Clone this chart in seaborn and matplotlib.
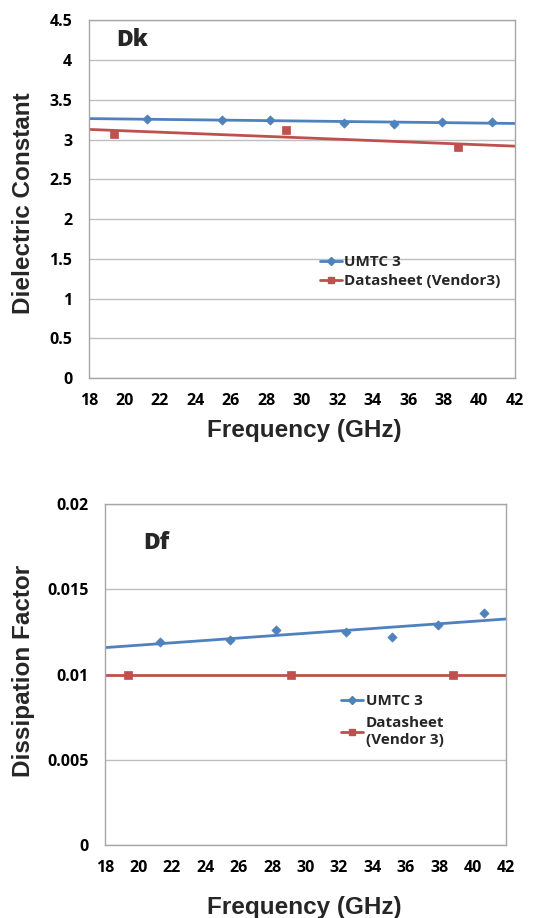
import numpy as np
import pandas as pd
import matplotlib
matplotlib.use("Agg")
import matplotlib.pyplot as plt
from matplotlib.lines import Line2D
import seaborn as sns

# ---- data ----
umtc_freq = [21.3, 25.5, 28.2, 32.4, 35.2, 37.9, 40.7]
umtc_dk = [3.26, 3.25, 3.24, 3.21, 3.20, 3.22, 3.22]
umtc_df = [0.0119, 0.0120, 0.0126, 0.0125, 0.0122, 0.0129, 0.0136]

vendor_freq = [19.4, 29.1, 38.8]
vendor_dk = [3.07, 3.12, 2.90]
vendor_df = [0.010, 0.010, 0.010]

x_ticks = list(range(18, 43, 2))
dk_ticks = [0, 0.5, 1, 1.5, 2, 2.5, 3, 3.5, 4, 4.5]
dk_tick_labels = ["0", "0.5", "1", "1.5", "2", "2.5", "3", "3.5", "4", "4.5"]
df_ticks = [0, 0.005, 0.01, 0.015, 0.02]
df_tick_labels = ["0", "0.005", "0.01", "0.015", "0.02"]

umtc_label_dk = "UMTC 3"
vendor_label_dk = "Datasheet (Vendor3)"
umtc_label_df = "UMTC 3"
vendor_label_df = "Datasheet\n(Vendor 3)"

BLUE = "#4F81BD"
RED = "#C0504D"
GRID = "#BFBFBF"

sns.set_theme(style="white")
BODY = ["Open Sans", "DejaVu Sans"]
plt.rcParams["font.family"] = BODY

fig = plt.figure(figsize=(5.39, 9.18), dpi=100)
ax1 = fig.add_axes([0.165, 0.588, 0.790, 0.390])
ax2 = fig.add_axes([0.195, 0.0795, 0.744, 0.3715])

tick_font = dict(family=BODY, weight="bold", size=11.5)
title_font = dict(family=["Liberation Sans", "DejaVu Sans"], weight="bold", size=17.5)


def style_axes(ax, yticks, ylabels, ylim):
    ax.set_xlim(18, 42)
    ax.set_ylim(*ylim)
    ax.set_xticks(x_ticks)
    ax.set_xticklabels([str(t) for t in x_ticks], **tick_font)
    ax.set_yticks(yticks)
    ax.set_yticklabels(ylabels, **tick_font)
    ax.tick_params(axis="both", length=0, colors="black")
    ax.tick_params(axis="x", pad=11)
    ax.tick_params(axis="y", pad=12)
    ax.grid(axis="y", color=GRID, linewidth=1.0)
    ax.set_axisbelow(True)
    for sp in ax.spines.values():
        sp.set_visible(True)
        sp.set_color("#A6A6A6")
        sp.set_linewidth(1.0)


def draw_panel(ax, y_umtc, y_vendor):
    df_u = pd.DataFrame({"freq": umtc_freq, "val": y_umtc})
    df_v = pd.DataFrame({"freq": vendor_freq, "val": y_vendor})
    # linear trend lines spanning the full frequency axis
    sns.regplot(data=df_u, x="freq", y="val", ax=ax, scatter=False, ci=None,
                truncate=False, color=BLUE, line_kws=dict(linewidth=2.0, zorder=2))
    sns.regplot(data=df_v, x="freq", y="val", ax=ax, scatter=False, ci=None,
                truncate=False, color=RED, line_kws=dict(linewidth=2.0, zorder=2))
    sns.scatterplot(data=df_u, x="freq", y="val", ax=ax, marker="D", s=22,
                    color=BLUE, edgecolor=BLUE, linewidth=0.5, zorder=3)
    sns.scatterplot(data=df_v, x="freq", y="val", ax=ax, marker="s", s=34,
                    color=RED, edgecolor=RED, linewidth=0.5, zorder=3)


# ---- Dk panel ----
ax1.set_xlim(18, 42)
draw_panel(ax1, umtc_dk, vendor_dk)
style_axes(ax1, dk_ticks, dk_tick_labels, (0, 4.5))
ax1.set_xlabel("Frequency (GHz)", **title_font)
ax1.set_ylabel("Dielectric Constant", **title_font)
ax1.xaxis.set_label_coords(0.505, -0.145)
ax1.xaxis.label.set_va("center")
ax1.yaxis.set_label_coords(-0.153, 0.49)
ax1.yaxis.label.set_va("center")
ax1.text(0.063, 0.944, "Dk", transform=ax1.transAxes, ha="left", va="center",
         fontsize=16.5, fontweight="heavy", family=BODY)

# ---- Df panel ----
ax2.set_xlim(18, 42)
draw_panel(ax2, umtc_df, vendor_df)
style_axes(ax2, df_ticks, df_tick_labels, (0, 0.02))
ax2.set_xlabel("Frequency (GHz)", **title_font)
ax2.set_ylabel("Dissipation Factor", **title_font)
ax2.xaxis.set_label_coords(0.496, -0.182)
ax2.xaxis.label.set_va("center")
ax2.yaxis.set_label_coords(-0.204, 0.51)
ax2.yaxis.label.set_va("center")
ax2.text(0.095, 0.886, "Df", transform=ax2.transAxes, ha="left", va="center",
         fontsize=16.5, fontweight="heavy", family=BODY)


def legend_handles():
    return [
        Line2D([], [], color=BLUE, linewidth=2.0, marker="D", markersize=4,
               markerfacecolor=BLUE, markeredgecolor=BLUE),
        Line2D([], [], color=RED, linewidth=2.0, marker="s", markersize=5,
               markerfacecolor=RED, markeredgecolor=RED),
    ]


leg_font = dict(family=BODY, weight="bold", size=11)
ax1.legend(legend_handles(), [umtc_label_dk, vendor_label_dk], loc="upper left",
           bbox_to_anchor=(0.542, 0.343), frameon=False, borderpad=0,
           borderaxespad=0, handlelength=1.45, handletextpad=0.15,
           labelspacing=0.3, prop=leg_font)
leg2 = ax2.legend(legend_handles(), [umtc_label_df, vendor_label_df], loc="upper left",
                  bbox_to_anchor=(0.589, 0.443), frameon=False, borderpad=0,
                  borderaxespad=0, handlelength=1.45, handletextpad=0.15,
                  labelspacing=0.5, prop=leg_font)
leg2.get_texts()[1].set_linespacing(1.35)

fig.savefig("out.png", dpi=100, facecolor="white")
